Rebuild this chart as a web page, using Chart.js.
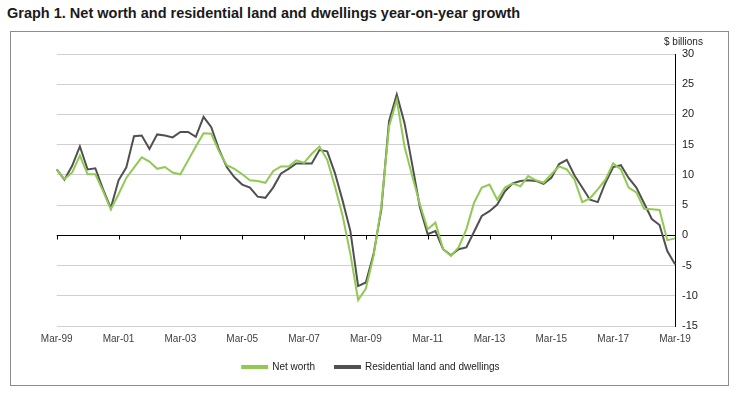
<!DOCTYPE html>
<html>
<head>
<meta charset="utf-8">
<script src="https://cdn.jsdelivr.net/npm/chart.js@4.4.1/dist/chart.umd.min.js"></script>
<style>
  body { margin: 0; background: #fff; font-family: 'Liberation Sans', Arial, sans-serif; }
  #title { position: absolute; left: 7px; top: 5px; font-weight: bold; font-size: 14.5px; color: #1a1a1a; white-space: nowrap; }
  #box { position: absolute; left: 10px; top: 31px; width: 717px; height: 353px; border: 1px solid #8c8c8c; }
  #unit { position: absolute; left: 653px; top: 4px; font-size: 10px; color: #222; }
  canvas { position: absolute; left: 0; top: 0; }
</style>
</head>
<body>
<div id="title">Graph 1. Net worth and residential land and dwellings year-on-year growth</div>
<div id="box">
  <canvas id="chart" width="717" height="353"></canvas>
  <div id="unit">$ billions</div>
</div>
<script>
// quarterly categories Mar-99 .. Mar-19
const months = ['Mar', 'Jun', 'Sep', 'Dec'];
const categories = [];
for (let yr = 1999; yr <= 2019; yr++) {
    months.forEach(m => {
        if (yr === 2019 && m !== 'Mar') return;
        categories.push(m + '-' + String(yr).slice(2));
    });
}

const tickLabels = ['Mar-99', 'Mar-01', 'Mar-03', 'Mar-05', 'Mar-07', 'Mar-09',
    'Mar-11', 'Mar-13', 'Mar-15', 'Mar-17', 'Mar-19'];

const netWorth = [
    10.9, 9.3, 10.4, 13.2, 10.1, 10.1, 7.3, 4.3,
    6.8, 9.5, 11.2, 12.9, 12.2, 11.0, 11.3, 10.4,
    10.1, 12.4, 14.7, 16.9, 16.8, 13.9, 11.6, 11.0,
    10.1, 9.1, 9.0, 8.7, 10.6, 11.4, 11.4, 12.4,
    12.0, 13.5, 14.7, 12.5, 8.1, 3.2, -3.1, -10.7,
    -8.8, -3.4, 4.8, 18.0, 22.4, 14.7, 9.8, 5.1,
    1.0, 2.1, -2.3, -3.4, -2.0, 1.0, 5.4, 7.9,
    8.4, 5.9, 7.9, 8.6, 8.1, 9.8, 9.1, 8.7,
    10.1, 11.4, 10.9, 9.2, 5.5, 6.1, 7.6, 9.2,
    11.9, 10.9, 7.9, 7.1, 4.4, 4.3, 4.2, -0.8,
    -0.5
];

const landDwellings = [
    10.9, 9.2, 11.5, 14.7, 10.9, 11.1, 7.6, 4.5,
    9.1, 11.2, 16.4, 16.5, 14.3, 16.7, 16.5, 16.2,
    17.1, 17.1, 16.3, 19.6, 17.9, 14.2, 11.3, 9.6,
    8.4, 7.9, 6.4, 6.2, 7.9, 10.2, 11.0, 11.9,
    11.9, 11.9, 14.1, 13.9, 10.3, 5.7, 0.7, -8.4,
    -7.8, -3.1, 4.3, 18.9, 23.3, 18.6, 11.7, 4.6,
    0.2, 0.7, -2.3, -3.3, -2.3, -2.0, 0.6, 3.2,
    4.0, 5.1, 7.3, 8.6, 9.0, 9.1, 9.0, 8.5,
    9.5, 11.8, 12.5, 9.9, 7.9, 5.9, 5.5, 8.7,
    11.3, 11.6, 9.5, 7.9, 5.3, 2.7, 1.7, -2.6,
    -4.8
];

const GREEN = '#92c955';
const DARK = '#505050';

// small tick marks hanging off the zero line
const zeroTicks = {
    id: 'zeroTicks',
    beforeDatasetsDraw(chart) {
        const { ctx, scales: { x, y } } = chart;
        const y0 = Math.round(y.getPixelForValue(0)) + 0.5;
        ctx.save();
        ctx.strokeStyle = '#000';
        ctx.lineWidth = 1;
        ctx.beginPath();
        categories.forEach((c, i) => {
            if (!tickLabels.includes(c)) return;
            const px = Math.round(x.getPixelForValue(i)) + 0.5;
            ctx.moveTo(px, y0);
            ctx.lineTo(px, y0 + 4);
        });
        ctx.stroke();
        ctx.restore();
    }
};

// nudge the legend a bit left so it sits where the original one does
const legendShift = {
    id: 'legendShift',
    afterLayout(chart) {
        chart.legend.left -= 15;
        chart.legend.right -= 15;
    }
};

new Chart(document.getElementById('chart').getContext('2d'), {
    type: 'line',
    data: {
        labels: categories,
        datasets: [
            {
                label: 'Net worth',
                data: netWorth,
                borderColor: GREEN,
                backgroundColor: GREEN,
                borderWidth: 2,
                pointRadius: 0,
                tension: 0
            },
            {
                label: 'Residential land and dwellings',
                data: landDwellings,
                borderColor: DARK,
                backgroundColor: DARK,
                borderWidth: 2,
                pointRadius: 0,
                tension: 0
            }
        ]
    },
    options: {
        responsive: false,
        animation: false,
        layout: { padding: { left: 45.7, right: 13, top: 22, bottom: 3 } },
        plugins: {
            tooltip: { enabled: false },
            legend: {
                position: 'bottom',
                labels: {
                    boxWidth: 25,
                    boxHeight: 2,
                    padding: 20,
                    color: '#222',
                    font: { family: "'Liberation Sans', Arial", size: 10 }
                }
            }
        },
        scales: {
            x: {
                offset: false,
                grid: { display: false, drawTicks: false },
                border: { display: false },
                afterFit(scale) { scale.height = 16; },
                ticks: {
                    autoSkip: false,
                    maxRotation: 0,
                    padding: 7,
                    color: '#404040',
                    font: { family: "'Liberation Sans', Arial", size: 10 },
                    callback(val, idx) {
                        const lab = categories[idx];
                        return tickLabels.includes(lab) ? lab : '';
                    }
                }
            },
            y: {
                position: 'right',
                min: -15,
                max: 30,
                afterFit(scale) { scale.width = 40; },
                grid: {
                    drawTicks: false,
                    lineWidth: 1,
                    color: ctx => ctx.tick && ctx.tick.value === 0 ? '#000000' : '#cfcfcf'
                },
                border: { display: true, color: '#000', width: 1 },
                ticks: {
                    stepSize: 5,
                    padding: 7,
                    color: '#222',
                    font: { family: "'Liberation Sans', Arial", size: 11 }
                }
            }
        }
    },
    plugins: [zeroTicks, legendShift]
});
</script>
</body>
</html>
